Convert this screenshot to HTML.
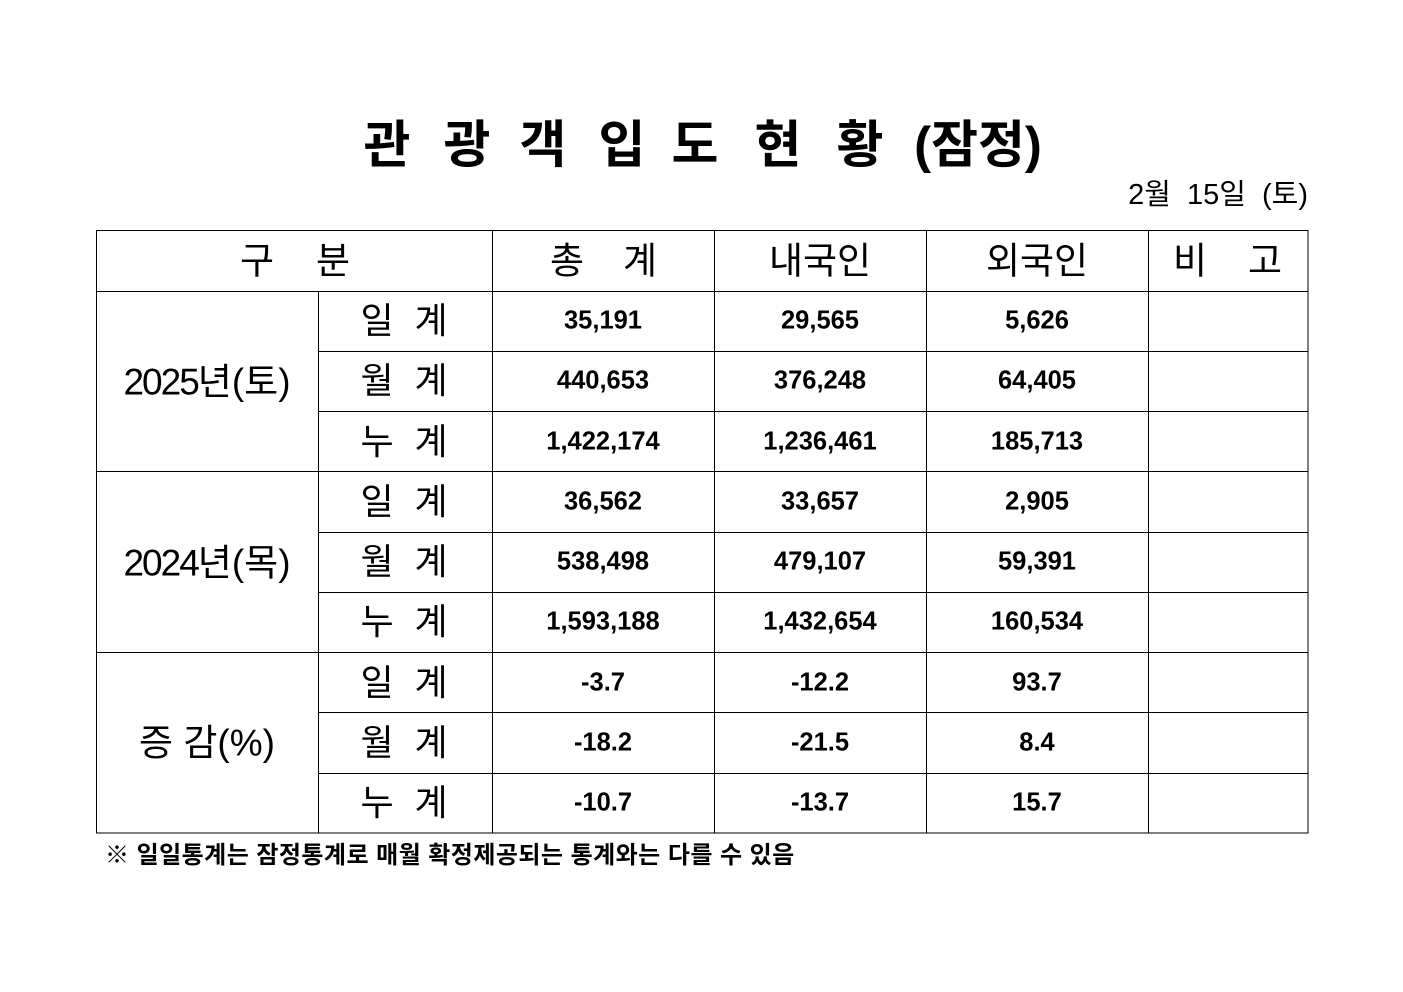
<!DOCTYPE html>
<html><head><meta charset="utf-8">
<style>
html,body{margin:0;padding:0;background:#fff;}
body{width:1403px;height:992px;position:relative;overflow:hidden;font-family:"Liberation Sans","Noto Sans CJK KR",sans-serif;color:#000;}
.c{position:absolute;transform:translate(-50%,-50%);line-height:1;white-space:nowrap;}
.ti{font-size:51px;font-weight:bold;}
.h{font-size:37px;}
.l{font-size:36px;}
.n{font-size:25.5px;font-weight:bold;}
.y{font-size:37px;}
.y b{font-weight:normal;letter-spacing:-2px;}
svg{position:absolute;left:0;top:0;}
</style></head><body>
<svg width="1403" height="992" xmlns="http://www.w3.org/2000/svg">
<g stroke="#000" stroke-width="1.2" fill="none" shape-rendering="crispEdges">
<rect x="96.5" y="230.5" width="1211.5" height="602.5"/>
<line x1="96" y1="291.5" x2="1308" y2="291.5"/>
<line x1="318" y1="351.5" x2="1308" y2="351.5"/>
<line x1="318" y1="411.5" x2="1308" y2="411.5"/>
<line x1="96" y1="471.5" x2="1308" y2="471.5"/>
<line x1="318" y1="532.5" x2="1308" y2="532.5"/>
<line x1="318" y1="592.5" x2="1308" y2="592.5"/>
<line x1="96" y1="652.5" x2="1308" y2="652.5"/>
<line x1="318" y1="712.5" x2="1308" y2="712.5"/>
<line x1="318" y1="773.5" x2="1308" y2="773.5"/>
<line x1="318.5" y1="291" x2="318.5" y2="833"/>
<line x1="492.5" y1="230" x2="492.5" y2="833"/>
<line x1="714.5" y1="230" x2="714.5" y2="833"/>
<line x1="926.5" y1="230" x2="926.5" y2="833"/>
<line x1="1148.5" y1="230" x2="1148.5" y2="833"/>
</g>
</svg>

<!-- Title -->
<div class="c ti" style="left:387px;top:145px">관</div>
<div class="c ti" style="left:467px;top:145px">광</div>
<div class="c ti" style="left:543px;top:145px">객</div>
<div class="c ti" style="left:622px;top:145px">입</div>
<div class="c ti" style="left:695px;top:145px">도</div>
<div class="c ti" style="left:778px;top:145px">현</div>
<div class="c ti" style="left:860px;top:145px">황</div>
<div class="c ti" style="left:978px;top:145px">(잠정)</div>

<!-- Date -->
<div style="position:absolute;right:95px;top:181px;font-size:29px;line-height:1;white-space:nowrap;word-spacing:8px;">2월 15일 (토)</div>

<!-- Header -->
<div class="c h" style="left:257px;top:261px">구</div>
<div class="c h" style="left:333px;top:261px">분</div>
<div class="c h" style="left:567px;top:261px">총</div>
<div class="c h" style="left:640px;top:261px">계</div>
<div class="c h" style="left:820px;top:261px">내국인</div>
<div class="c h" style="left:1037px;top:261px">외국인</div>
<div class="c h" style="left:1190px;top:261px">비</div>
<div class="c h" style="left:1265px;top:261px">고</div>

<!-- Left group labels -->
<div class="c y" style="left:207px;top:382px"><b>2025</b>년(토)</div>
<div class="c y" style="left:207px;top:563px"><b>2024</b>년(목)</div>
<div class="c y" style="left:207px;top:743px">증 감(%)</div>

<!-- Row labels -->
<div class="c l" style="left:377px;top:321px">일</div><div class="c l" style="left:431px;top:321px">계</div>
<div class="c l" style="left:377px;top:381px">월</div><div class="c l" style="left:431px;top:381px">계</div>
<div class="c l" style="left:377px;top:442px">누</div><div class="c l" style="left:431px;top:442px">계</div>
<div class="c l" style="left:377px;top:502px">일</div><div class="c l" style="left:431px;top:502px">계</div>
<div class="c l" style="left:377px;top:562px">월</div><div class="c l" style="left:431px;top:562px">계</div>
<div class="c l" style="left:377px;top:622px">누</div><div class="c l" style="left:431px;top:622px">계</div>
<div class="c l" style="left:377px;top:683px">일</div><div class="c l" style="left:431px;top:683px">계</div>
<div class="c l" style="left:377px;top:743px">월</div><div class="c l" style="left:431px;top:743px">계</div>
<div class="c l" style="left:377px;top:803px">누</div><div class="c l" style="left:431px;top:803px">계</div>

<!-- Numbers -->
<div class="c n" style="left:603px;top:321px">35,191</div>
<div class="c n" style="left:820px;top:321px">29,565</div>
<div class="c n" style="left:1037px;top:321px">5,626</div>
<div class="c n" style="left:603px;top:381px">440,653</div>
<div class="c n" style="left:820px;top:381px">376,248</div>
<div class="c n" style="left:1037px;top:381px">64,405</div>
<div class="c n" style="left:603px;top:442px">1,422,174</div>
<div class="c n" style="left:820px;top:442px">1,236,461</div>
<div class="c n" style="left:1037px;top:442px">185,713</div>

<div class="c n" style="left:603px;top:502px">36,562</div>
<div class="c n" style="left:820px;top:502px">33,657</div>
<div class="c n" style="left:1037px;top:502px">2,905</div>
<div class="c n" style="left:603px;top:562px">538,498</div>
<div class="c n" style="left:820px;top:562px">479,107</div>
<div class="c n" style="left:1037px;top:562px">59,391</div>
<div class="c n" style="left:603px;top:622px">1,593,188</div>
<div class="c n" style="left:820px;top:622px">1,432,654</div>
<div class="c n" style="left:1037px;top:622px">160,534</div>

<div class="c n" style="left:603px;top:683px">-3.7</div>
<div class="c n" style="left:820px;top:683px">-12.2</div>
<div class="c n" style="left:1037px;top:683px">93.7</div>
<div class="c n" style="left:603px;top:743px">-18.2</div>
<div class="c n" style="left:820px;top:743px">-21.5</div>
<div class="c n" style="left:1037px;top:743px">8.4</div>
<div class="c n" style="left:603px;top:803px">-10.7</div>
<div class="c n" style="left:820px;top:803px">-13.7</div>
<div class="c n" style="left:1037px;top:803px">15.7</div>

<!-- Footnote -->
<div style="position:absolute;left:105px;top:844px;font-size:24px;font-weight:bold;line-height:1;white-space:nowrap;letter-spacing:0.45px;">※ 일일통계는 잠정통계로 매월 확정제공되는 통계와는 다를 수 있음</div>
</body></html>
